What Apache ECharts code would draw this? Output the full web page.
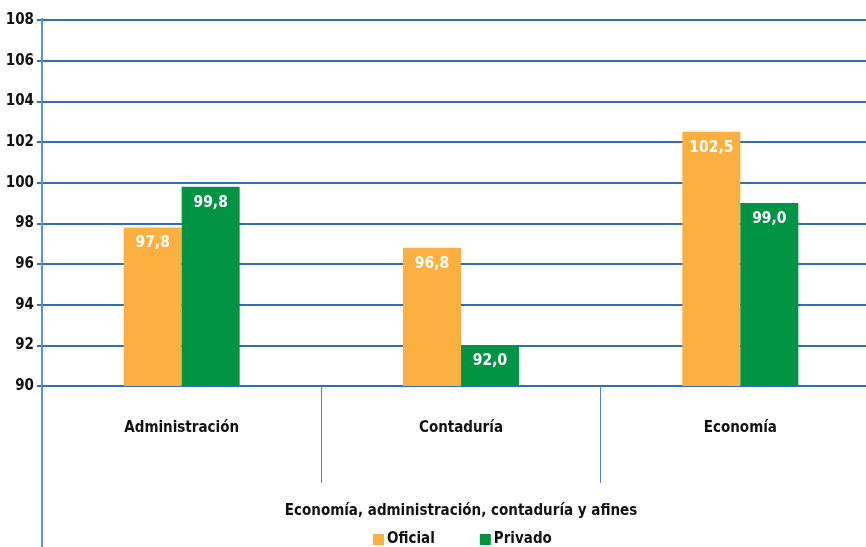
<!DOCTYPE html>
<html><head><meta charset="utf-8">
<script src="https://cdn.jsdelivr.net/npm/echarts@6/dist/echarts.min.js"></script>
<style>html,body{margin:0;padding:0;background:#fff}#c{width:866px;height:547px}</style>
</head><body><div id="c"></div>
<script>
const categories = ['Administración', 'Contaduría', 'Economía'];
const oficial = [97.8, 96.8, 102.5];
const privado = [99.8, 92.0, 99.0];
const seriesNames = ['Oficial', 'Privado'];
const axisTitle = 'Economía, administración, contaduría y afines';
const yMin = 90, yMax = 108, yStep = 2;

const FONT = '"DejaVu Sans Condensed", "Liberation Sans Narrow", sans-serif';
const BLUE = '#2f6fb5';
const chart = echarts.init(document.getElementById('c'), null, {renderer: 'canvas'});
const fmt = p => p.value.toFixed(1).replace('.', ',');
const lab = {show: true, position: 'insideTop', distance: 8, color: '#fff', fontFamily: FONT, fontWeight: 'bold', fontSize: 15.5, formatter: fmt};
chart.setOption({
  animation: false,
  grid: {left: 42, top: 20, width: 838, bottom: 161, containLabel: false, outerBoundsMode: 'none'},
  legend: {
    data: seriesNames, left: 368, top: 527, itemWidth: 11, itemHeight: 11, itemGap: 45,
    icon: 'rect',
    textStyle: {fontFamily: FONT, fontWeight: 'bold', fontSize: 15, color: '#111', padding: [0, 0, 0, -2]}
  },
  xAxis: {
    type: 'category', data: categories,
    name: axisTitle, nameLocation: 'middle', nameGap: 118,
    nameTextStyle: {fontFamily: FONT, fontWeight: 'bold', fontSize: 15, color: '#111'},
    axisLine: {show: true, lineStyle: {color: BLUE, width: 2}},
    axisTick: {show: true, length: 97, interval: 0, lineStyle: {color: '#4a86c5', width: 1}},
    axisLabel: {margin: 35, fontFamily: FONT, fontWeight: 'bold', fontSize: 15, color: '#111', interval: 0}
  },
  yAxis: {
    type: 'value', min: yMin, max: yMax, interval: yStep,
    axisLine: {show: false},
    axisTick: {show: true, length: 5, lineStyle: {color: BLUE, width: 2}},
    axisLabel: {margin: 8, fontFamily: FONT, fontWeight: 'bold', fontSize: 15, color: '#111'},
    splitLine: {show: true, lineStyle: {color: BLUE, width: 2}}
  },
  graphic: [{type: 'line', shape: {x1: 42, y1: 18, x2: 42, y2: 547}, style: {stroke: '#5b95d0', lineWidth: 2}, z: 10}],
  series: [
    {name: seriesNames[0], type: 'bar', data: oficial, barWidth: 58, barGap: '0%', itemStyle: {color: '#fbb040'}, label: lab},
    {name: seriesNames[1], type: 'bar', data: privado, barWidth: 58, barGap: '0%', itemStyle: {color: '#009444'}, label: lab}
  ]
});
</script></body></html>
